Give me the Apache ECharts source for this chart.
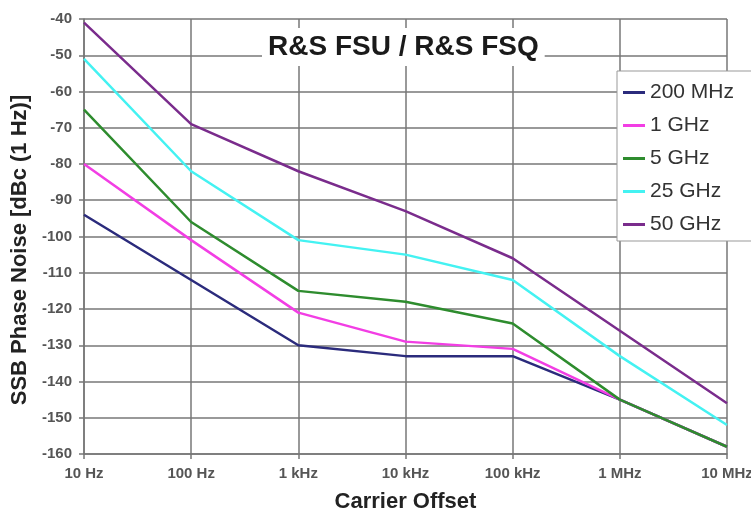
<!DOCTYPE html>
<html>
<head>
<meta charset="utf-8">
<script src="https://cdn.jsdelivr.net/npm/echarts@6/dist/echarts.min.js"></script>
<style>html,body{margin:0;padding:0;background:#fff}#c{width:751px;height:514px}</style>
</head>
<body>
<div id="c"></div>
<script>
const categories = ['10 Hz', '100 Hz', '1 kHz', '10 kHz', '100 kHz', '1 MHz', '10 MHz'];
const yTicks = [-160, -40, 10];
const s200MHz = [-94, -112, -130, -133, -133, -145, -158];
const s1GHz   = [-80, -101, -121, -129, -131, -145, -158];
const s5GHz   = [-65, -96, -115, -118, -124, -145, -158];
const s25GHz  = [-51, -82, -101, -105, -112, -133, -152];
const s50GHz  = [-41, -69, -82, -93, -106, -126, -146];
const seriesNames = ['200 MHz', '1 GHz', '5 GHz', '25 GHz', '50 GHz'];
const seriesData = [s200MHz, s1GHz, s5GHz, s25GHz, s50GHz];
const colors = ['#2b2b7c', '#f23ee4', '#2e8c2e', '#44f2f2', '#7a2c8c'];

const chart = echarts.init(document.getElementById('c'), null, {renderer: 'canvas'});
chart.setOption({
  animation: false,
  backgroundColor: '#fff',
  title: {
    text: 'R&S FSU / R&S FSQ',
    left: 262, top: 28,
    padding: [5, 6],
    backgroundColor: '#fff',
    textStyle: {fontFamily: 'Liberation Sans, Arial, sans-serif', fontSize: 28, fontWeight: 'bold', color: '#1a1a1a'}
  },
  legend: {
    orient: 'vertical',
    left: 617, top: 71,
    padding: [11, 20, 6, 6],
    itemGap: 12,
    icon: 'rect',
    itemWidth: 22, itemHeight: 3,
    backgroundColor: '#fff',
    borderColor: '#999', borderWidth: 1,
    textStyle: {fontFamily: 'Liberation Sans, Arial, sans-serif', fontSize: 21, color: '#333'},
    data: seriesNames
  },
  grid: {left: 84, right: 24, top: 19, bottom: 60, containLabel: false, outerBoundsMode: 'none'},
  xAxis: {
    type: 'category',
    data: categories,
    boundaryGap: false,
    name: 'Carrier Offset',
    nameLocation: 'middle',
    nameGap: 37,
    nameTextStyle: {fontFamily: 'Liberation Sans, Arial, sans-serif', fontSize: 22, fontWeight: 'bold', color: '#222'},
    axisLine: {lineStyle: {color: '#777', width: 1.5}},
    axisTick: {show: true, length: 5, alignWithLabel: true, lineStyle: {color: '#777', width: 1.5}},
    axisLabel: {margin: 12, fontFamily: 'Liberation Sans, Arial, sans-serif', fontSize: 15, fontWeight: 'bold', color: '#555', interval: 0},
    splitLine: {show: true, lineStyle: {color: '#777', width: 1.5}}
  },
  yAxis: {
    type: 'value',
    min: yTicks[0], max: yTicks[1], interval: yTicks[2],
    axisLine: {show: true, lineStyle: {color: '#777', width: 1.5}},
    axisTick: {show: true, length: 5, lineStyle: {color: '#777', width: 1.5}},
    axisLabel: {margin: 12, fontFamily: 'Liberation Sans, Arial, sans-serif', fontSize: 15, fontWeight: 'bold', color: '#555'},
    splitLine: {show: true, lineStyle: {color: '#777', width: 1.5}}
  },
  graphic: [{
    type: 'text',
    x: 20, y: 250,
    rotation: Math.PI / 2,
    style: {
      text: 'SSB Phase Noise [dBc (1 Hz)]',
      fontFamily: 'Liberation Sans, Arial, sans-serif',
      fontSize: 22, fontWeight: 'bold', fill: '#222',
      align: 'center', verticalAlign: 'middle'
    }
  }],
  series: seriesNames.map((n, i) => ({
    name: n,
    type: 'line',
    data: seriesData[i],
    showSymbol: false,
    symbol: 'none',
    color: colors[i],
    lineStyle: {color: colors[i], width: 2.5}
  }))
});
</script>
</body>
</html>
